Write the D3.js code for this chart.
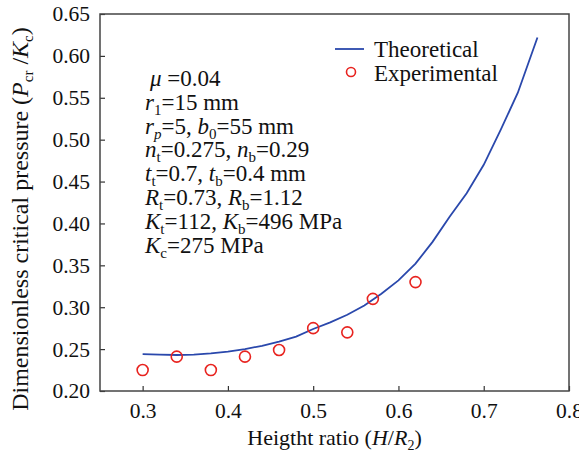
<!DOCTYPE html>
<html>
<head>
<meta charset="utf-8">
<script src="https://cdn.jsdelivr.net/npm/d3@7"></script>
</head>
<body style="margin:0">
<script>
// Theoretical curve (H/R2 vs Pcr/Kc)
const theoX = [0.30, 0.32, 0.34, 0.36, 0.38, 0.40, 0.42, 0.44, 0.46, 0.48, 0.50, 0.52, 0.54,
  0.56, 0.58, 0.60, 0.62, 0.64, 0.66, 0.68, 0.70, 0.72, 0.74, 0.763];
const theoY = [0.244, 0.2435, 0.243, 0.2435, 0.245, 0.247, 0.250, 0.254, 0.259, 0.265, 0.274, 0.282, 0.291,
  0.302, 0.316, 0.332, 0.352, 0.378, 0.408, 0.436, 0.470, 0.512, 0.556, 0.622];

// Experimental points
const expX = [0.30, 0.34, 0.38, 0.42, 0.46, 0.50, 0.54, 0.57, 0.62];
const expY = [0.225, 0.241, 0.225, 0.241, 0.249, 0.275, 0.270, 0.310, 0.330];

const xTicks = [0.3, 0.4, 0.5, 0.6, 0.7, 0.8];
const yTicks = [0.20, 0.25, 0.30, 0.35, 0.40, 0.45, 0.50, 0.55, 0.60, 0.65];

// annotation lines: [text, kind] pieces
const notes = [
  [["μ", "i"], [" =0.04", ""]],
  [["r", "i"], ["1", "sub"], ["=15 mm", ""]],
  [["r", "i"], ["p", "isub"], ["=5, ", ""], ["b", "i"], ["0", "sub"], ["=55 mm", ""]],
  [["n", "i"], ["t", "sub"], ["=0.275, ", ""], ["n", "i"], ["b", "sub"], ["=0.29", ""]],
  [["t", "i"], ["t", "sub"], ["=0.7, ", ""], ["t", "i"], ["b", "sub"], ["=0.4 mm", ""]],
  [["R", "i"], ["t", "sub"], ["=0.73, ", ""], ["R", "i"], ["b", "sub"], ["=1.12", ""]],
  [["K", "i"], ["t", "sub"], ["=112, ", ""], ["K", "i"], ["b", "sub"], ["=496 MPa", ""]],
  [["K", "i"], ["c", "sub"], ["=275 MPa", ""]]
];

const FONT = 'Liberation Serif';
const W = 579, H = 454;
const margin = { top: 14, right: 10, bottom: 63, left: 100 };
const width = W - margin.left - margin.right;
const height = H - margin.top - margin.bottom;

const svg = d3.select('body').append('svg')
  .attr('width', W)
  .attr('height', H);

const g = svg.append('g')
  .attr('transform', `translate(${margin.left},${margin.top})`);

const x = d3.scaleLinear().domain([0.25, 0.8]).range([0, width]);
const y = d3.scaleLinear().domain([0.20, 0.65]).range([height, 0]);

// axes with inward ticks
const xAxis = g.append('g')
  .attr('transform', `translate(0,${height})`)
  .call(d3.axisBottom(x).tickValues(xTicks).tickSize(-5).tickPadding(12).tickFormat(d3.format('.1f')));
xAxis.attr('font-family', null);
xAxis.select('.domain').remove();
xAxis.selectAll('line').attr('stroke', '#333').attr('stroke-width', 1.2);
xAxis.selectAll('text').attr('font-size', 21.5);

const yAxis = g.append('g')
  .call(d3.axisLeft(y).tickValues(yTicks).tickSize(-5).tickPadding(10).tickFormat(d3.format('.2f')));
yAxis.attr('font-family', null);
yAxis.select('.domain').remove();
yAxis.selectAll('line').attr('stroke', '#333').attr('stroke-width', 1.2);
yAxis.selectAll('text').attr('font-size', 21.5);

// frame
g.append('rect')
  .attr('width', width)
  .attr('height', height)
  .attr('fill', 'none')
  .attr('stroke', '#444')
  .attr('stroke-width', 1.5);

// theoretical line
const theo = theoX.map((d, i) => ({ x: d, y: theoY[i] }));
const line = d3.line().x(d => x(d.x)).y(d => y(d.y));
g.append('path')
  .datum(theo)
  .attr('d', line)
  .attr('fill', 'none')
  .attr('stroke', '#2a48ac')
  .attr('stroke-width', 1.8);

// experimental points
const exp = expX.map((d, i) => ({ x: d, y: expY[i] }));
g.selectAll('.dot')
  .data(exp)
  .enter().append('circle')
  .attr('class', 'dot')
  .attr('cx', d => x(d.x))
  .attr('cy', d => y(d.y))
  .attr('r', 5.5)
  .attr('fill', 'none')
  .attr('stroke', '#e8231f')
  .attr('stroke-width', 1.6);

// legend
const leg = svg.append('g').attr('transform', 'translate(335,49)');
leg.append('line').attr('x1', 0).attr('x2', 29).attr('y1', 0).attr('y2', 0)
  .attr('stroke', '#2a48ac').attr('stroke-width', 1.8);
leg.append('text').attr('x', 39).attr('y', 8).attr('font-size', 23).text('Theoretical');
leg.append('circle').attr('cx', 16).attr('cy', 23).attr('r', 4.5)
  .attr('fill', 'none').attr('stroke', '#e8231f').attr('stroke-width', 1.6);
leg.append('text').attr('x', 39).attr('y', 32).attr('font-size', 23).text('Experimental');

// annotation block
notes.forEach((parts, i) => {
  const t = svg.append('text')
    .attr('x', i === 0 ? 150 : 145)
    .attr('y', 86 + i * 23.8)
    .attr('font-size', 23);
  let down = false;
  parts.forEach(([s, k]) => {
    const ts = t.append('tspan').text(s);
    if (k === 'i' || k === 'isub') ts.attr('font-style', 'italic');
    if (k === 'sub' || k === 'isub') {
      ts.attr('font-size', 15).attr('dy', 5);
      down = true;
    } else if (down) {
      ts.attr('dy', -5);
      down = false;
    }
  });
});

// x axis title
const xt = svg.append('text')
  .attr('x', margin.left + width / 2)
  .attr('y', 445)
  .attr('text-anchor', 'middle')
  .attr('font-size', 22);
xt.append('tspan').text('Heigtht ratio (');
xt.append('tspan').attr('font-style', 'italic').text('H');
xt.append('tspan').text('/');
xt.append('tspan').attr('font-style', 'italic').text('R');
xt.append('tspan').attr('font-size', 14).attr('dy', 5).text('2');
xt.append('tspan').attr('dy', -5).text(')');

// y axis title
const yt = svg.append('text')
  .attr('transform', 'translate(28,219) rotate(-90)')
  .attr('text-anchor', 'middle')
  .attr('font-size', 24);
yt.append('tspan').text('Dimensionless critical pressure (');
yt.append('tspan').attr('font-style', 'italic').text('P');
yt.append('tspan').attr('font-size', 15).attr('dy', 5).text('cr');
yt.append('tspan').attr('dy', -5).text(' /');
yt.append('tspan').attr('font-style', 'italic').text('K');
yt.append('tspan').attr('font-size', 15).attr('dy', 5).text('c');
yt.append('tspan').attr('dy', -5).text(')');

// serif font set on every text and tspan directly
svg.selectAll('text, tspan')
  .attr('font-family', FONT)
  .style('font-family', FONT, 'important');
svg.selectAll('text').attr('fill', '#111');
</script>
</body>
</html>
